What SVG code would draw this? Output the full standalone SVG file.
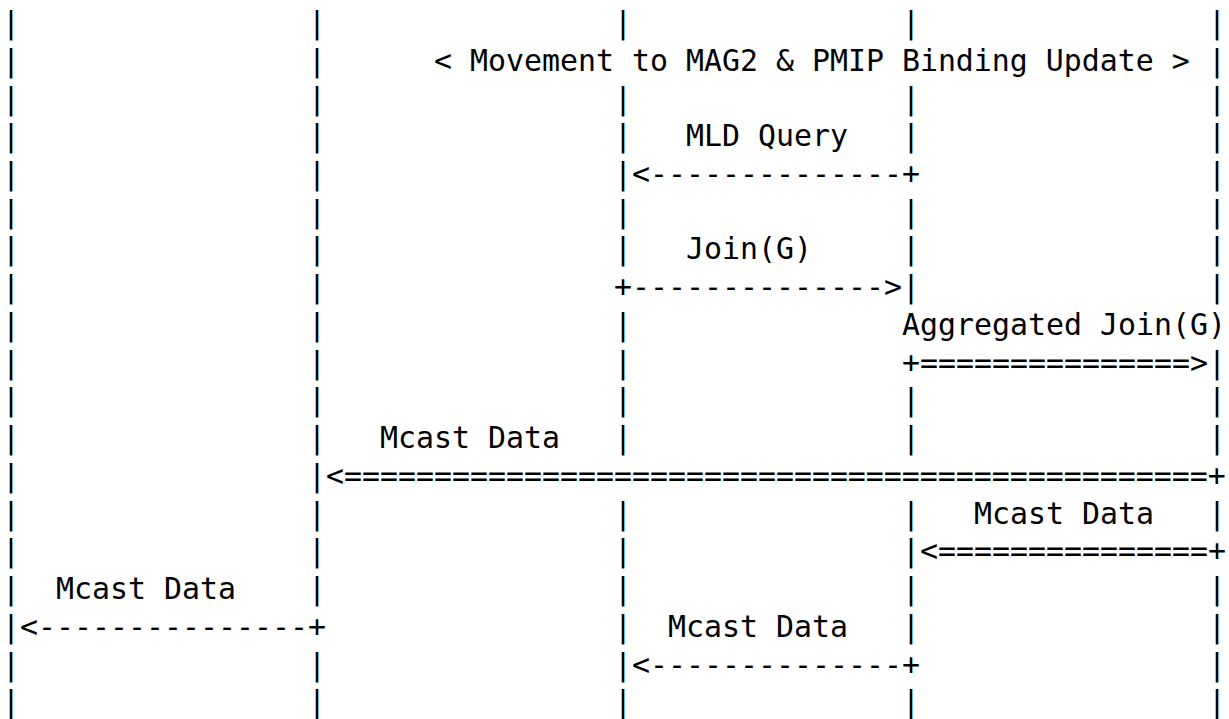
<svg xmlns="http://www.w3.org/2000/svg" width="1229" height="719" viewBox="0 0 1229 719">
  <style>
    text { font-family: "DejaVu Sans Mono", "Liberation Mono", monospace; font-size: 29.9px; fill: #000; white-space: pre; }
  </style>
  <rect width="1229" height="719" fill="#fff"/>

  <!-- Lifelines: one character column each, 18px per column, 37.74px per row -->
  <g id="lifeline-1">
    <text>
      <tspan x="2" y="33.0">|</tspan><tspan x="2" y="70.7">|</tspan><tspan x="2" y="108.5">|</tspan><tspan x="2" y="146.2">|</tspan><tspan x="2" y="184.0">|</tspan><tspan x="2" y="221.7">|</tspan><tspan x="2" y="259.4">|</tspan><tspan x="2" y="297.2">|</tspan><tspan x="2" y="334.9">|</tspan><tspan x="2" y="372.7">|</tspan><tspan x="2" y="410.4">|</tspan><tspan x="2" y="448.1">|</tspan><tspan x="2" y="485.9">|</tspan><tspan x="2" y="523.6">|</tspan><tspan x="2" y="561.4">|</tspan><tspan x="2" y="599.1">|</tspan><tspan x="2" y="636.8">|</tspan><tspan x="2" y="674.6">|</tspan><tspan x="2" y="712.3">|</tspan>
    </text>
  </g>
  <g id="lifeline-2">
    <text>
      <tspan x="308" y="33.0">|</tspan><tspan x="308" y="70.7">|</tspan><tspan x="308" y="108.5">|</tspan><tspan x="308" y="146.2">|</tspan><tspan x="308" y="184.0">|</tspan><tspan x="308" y="221.7">|</tspan><tspan x="308" y="259.4">|</tspan><tspan x="308" y="297.2">|</tspan><tspan x="308" y="334.9">|</tspan><tspan x="308" y="372.7">|</tspan><tspan x="308" y="410.4">|</tspan><tspan x="308" y="448.1">|</tspan><tspan x="308" y="485.9">|</tspan><tspan x="308" y="523.6">|</tspan><tspan x="308" y="561.4">|</tspan><tspan x="308" y="599.1">|</tspan><tspan x="308" y="674.6">|</tspan><tspan x="308" y="712.3">|</tspan>
    </text>
  </g>
  <g id="lifeline-3">
    <text>
      <tspan x="614" y="33.0">|</tspan><tspan x="614" y="108.5">|</tspan><tspan x="614" y="146.2">|</tspan><tspan x="614" y="184.0">|</tspan><tspan x="614" y="221.7">|</tspan><tspan x="614" y="259.4">|</tspan><tspan x="614" y="334.9">|</tspan><tspan x="614" y="372.7">|</tspan><tspan x="614" y="410.4">|</tspan><tspan x="614" y="448.1">|</tspan><tspan x="614" y="523.6">|</tspan><tspan x="614" y="561.4">|</tspan><tspan x="614" y="599.1">|</tspan><tspan x="614" y="636.8">|</tspan><tspan x="614" y="674.6">|</tspan><tspan x="614" y="712.3">|</tspan>
    </text>
  </g>
  <g id="lifeline-4">
    <text>
      <tspan x="902" y="33.0">|</tspan><tspan x="902" y="108.5">|</tspan><tspan x="902" y="146.2">|</tspan><tspan x="902" y="221.7">|</tspan><tspan x="902" y="259.4">|</tspan><tspan x="902" y="297.2">|</tspan><tspan x="902" y="410.4">|</tspan><tspan x="902" y="448.1">|</tspan><tspan x="902" y="523.6">|</tspan><tspan x="902" y="561.4">|</tspan><tspan x="902" y="599.1">|</tspan><tspan x="902" y="636.8">|</tspan><tspan x="902" y="712.3">|</tspan>
    </text>
  </g>
  <g id="lifeline-5">
    <text>
      <tspan x="1208" y="33.0">|</tspan><tspan x="1208" y="70.7">|</tspan><tspan x="1208" y="108.5">|</tspan><tspan x="1208" y="146.2">|</tspan><tspan x="1208" y="184.0">|</tspan><tspan x="1208" y="221.7">|</tspan><tspan x="1208" y="259.4">|</tspan><tspan x="1208" y="297.2">|</tspan><tspan x="1208" y="372.7">|</tspan><tspan x="1208" y="410.4">|</tspan><tspan x="1208" y="448.1">|</tspan><tspan x="1208" y="523.6">|</tspan><tspan x="1208" y="599.1">|</tspan><tspan x="1208" y="636.8">|</tspan><tspan x="1208" y="674.6">|</tspan><tspan x="1208" y="712.3">|</tspan>
    </text>
  </g>

  <!-- Message arrows -->
  <g id="connectors">
    <text id="msg-mld-query" x="632" y="184.0">&lt;--------------+</text>
    <text id="msg-join" x="614" y="297.2">+--------------&gt;</text>
    <text id="msg-agg-join" x="902" y="372.7">+===============&gt;</text>
    <text id="msg-mcast-1" x="326" y="485.9">&lt;================================================+</text>
    <text id="msg-mcast-2" x="920" y="561.4">&lt;===============+</text>
    <text id="msg-mcast-3" x="20" y="636.8">&lt;---------------+</text>
    <text id="msg-mcast-4" x="632" y="674.6">&lt;--------------+</text>
  </g>

  <!-- Message labels -->
  <g id="labels">
    <text x="434" y="70.7">&lt; Movement to MAG2 &amp; PMIP Binding Update &gt;</text>
    <text x="686" y="146.2">MLD Query</text>
    <text x="686" y="259.4">Join(G)</text>
    <text x="902" y="334.9">Aggregated Join(G)</text>
    <text x="380" y="448.1">Mcast Data</text>
    <text x="974" y="523.6">Mcast Data</text>
    <text x="56" y="599.1">Mcast Data</text>
    <text x="668" y="636.8">Mcast Data</text>
  </g>
</svg>
